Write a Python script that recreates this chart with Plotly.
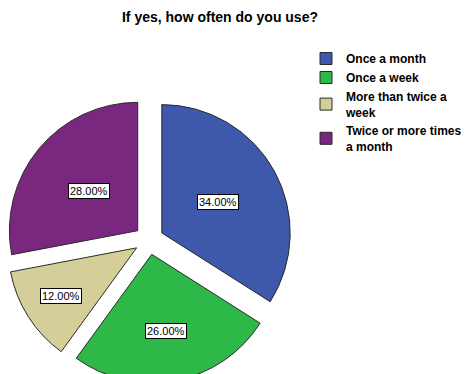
import math
import plotly.graph_objects as go

# Survey answers and their shares (percent)
title_text = "If yes, how often do you use?"
categories = ["Once a month", "Once a week", "More than twice a week", "Twice or more times a month"]
legend_labels = ["Once a month", "Once a week", "More than twice a<br>week", "Twice or more times<br>a month"]
percentages = [34.0, 26.0, 12.0, 28.0]
slice_colors = ["#3E58AC", "#2EB848", "#D4CE99", "#7A287F"]
# How far out along each wedge's bisector its label box sits (fraction of radius)
label_radius = [0.50, 0.61, 0.70, 0.49]

W, H = 468, 384
PULL = 0.114
DOM_X = [6 / W, 292 / W]
DOM_Y = [1 - 383 / H, 1 - 97 / H]

fig = go.Figure()
fig.add_trace(go.Pie(
    labels=legend_labels,
    values=percentages,
    sort=False,
    direction="clockwise",
    rotation=0,
    pull=[PULL] * len(percentages),
    marker=dict(colors=slice_colors, line=dict(color="#2a2a2a", width=1)),
    textinfo="none",
    hovertext=categories,
    hoverinfo="text+percent",
    domain=dict(x=DOM_X, y=DOM_Y),
))

# Percentage labels in boxes, placed along each wedge's bisector
box_w = (DOM_X[1] - DOM_X[0]) * W
box_h = (DOM_Y[1] - DOM_Y[0]) * H
r = min(box_w, box_h) / (2 + 2 * PULL)
cx = (DOM_X[0] + DOM_X[1]) / 2 * W
cy = H * (1 - (DOM_Y[0] + DOM_Y[1]) / 2)
total = sum(percentages)
cum = 0.0
annotations = []
for pct, lr in zip(percentages, label_radius):
    frac = pct / total
    theta = 2 * math.pi * (cum + frac / 2)
    dist = (PULL + lr) * r
    px = cx + dist * math.sin(theta)
    py = cy - dist * math.cos(theta)
    annotations.append(dict(
        x=px / W, y=1 - py / H, xref="paper", yref="paper",
        xanchor="center", yanchor="middle",
        text=f"{pct:.2f}%", showarrow=False,
        font=dict(family="Liberation Sans", size=11, color="black"),
        bgcolor="white", bordercolor="black", borderwidth=1, borderpad=1,
    ))
    cum += frac

fig.update_layout(
    width=W, height=H,
    margin=dict(l=0, r=0, t=0, b=0, autoexpand=False),
    paper_bgcolor="white",
    plot_bgcolor="white",
    title=dict(
        text=title_text, x=220 / W, xanchor="center", y=1 - 17 / H, yanchor="middle",
        font=dict(family="Liberation Sans", size=14, color="black", weight="bold"),
    ),
    legend=dict(
        x=306 / W, xanchor="left", y=1 - 44 / H, yanchor="top",
        font=dict(family="Liberation Sans", size=12, color="black", weight="bold"),
        itemwidth=30, tracegroupgap=0, bgcolor="rgba(0,0,0,0)",
    ),
    annotations=annotations,
)

fig.write_html(
    "out.html",
    post_script="document.documentElement.style.overflow='hidden';document.body.style.overflow='hidden';",
)
